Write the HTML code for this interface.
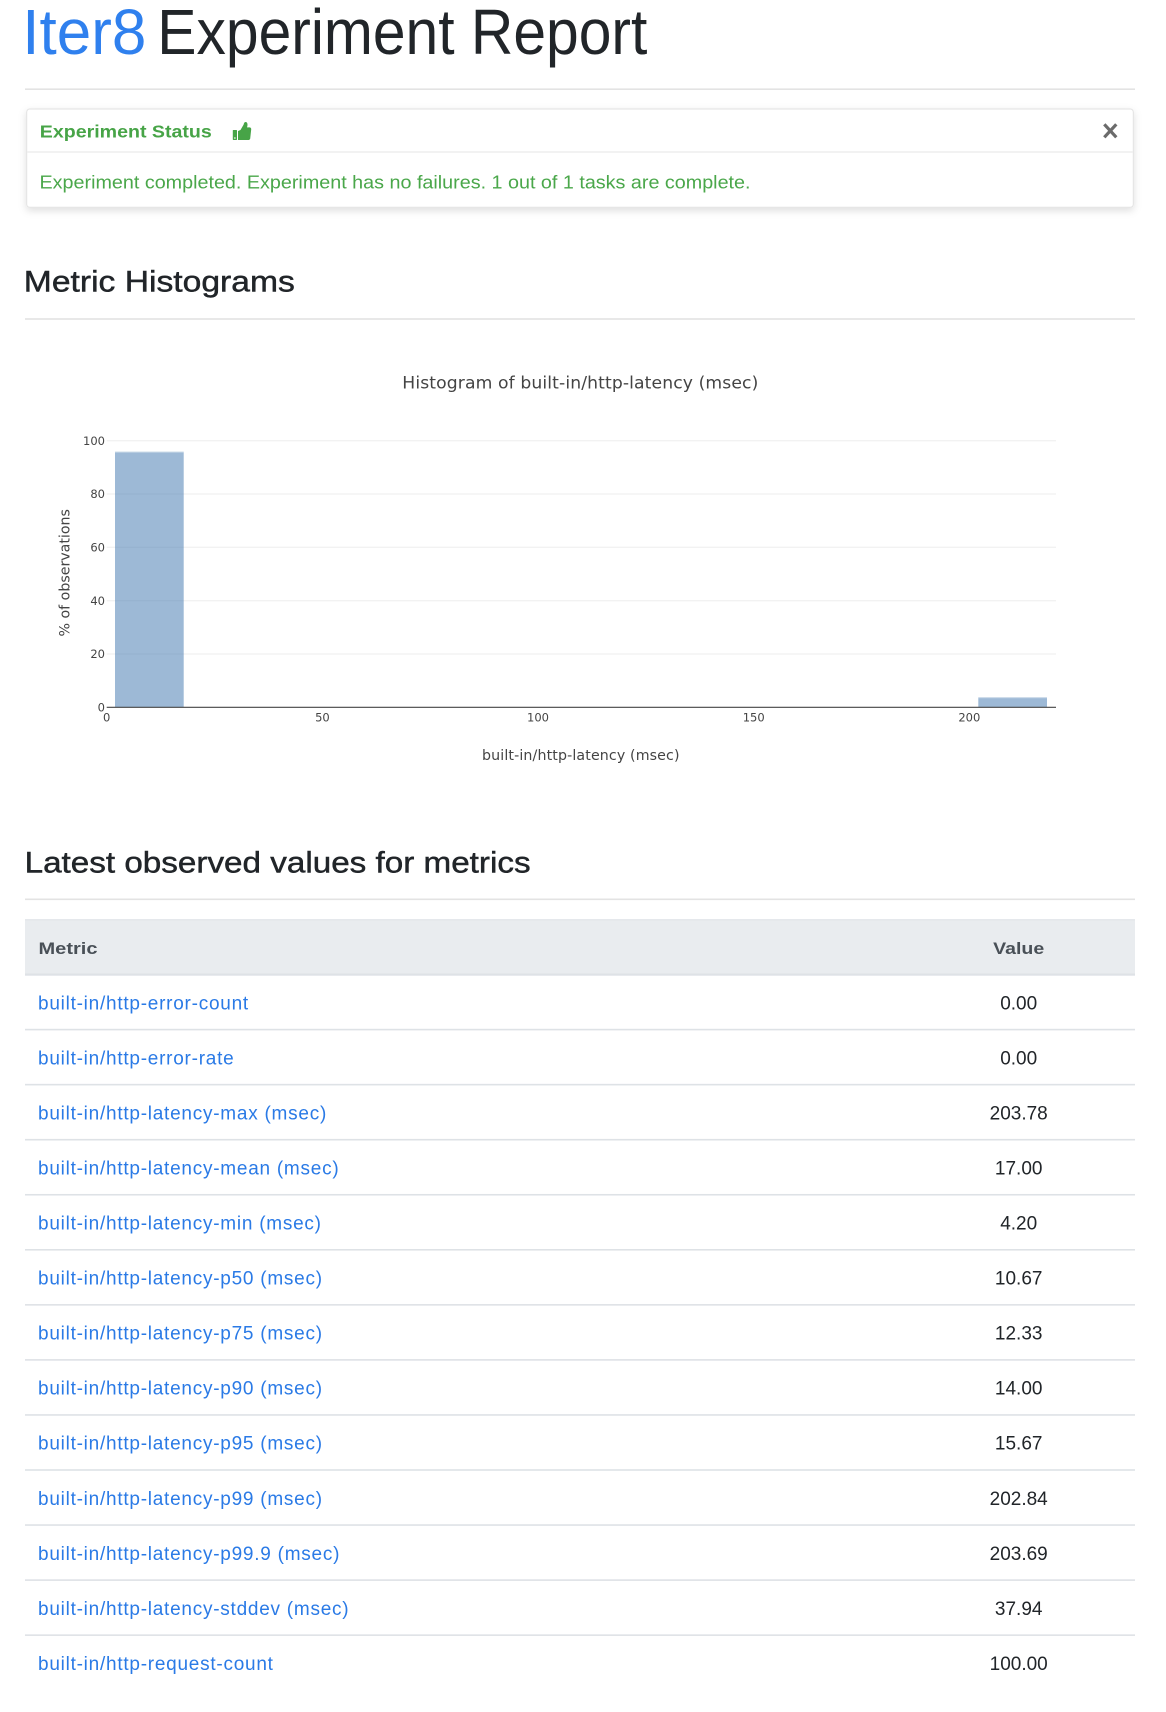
<!DOCTYPE html>
<html>
<head>
<meta charset="utf-8">
<style>
  html, body { margin: 0; padding: 0; background: #ffffff; }
  body { width: 1166px; height: 1712px; overflow: hidden; }
  svg { display: block; }
  .ls { font-family: "Liberation Sans", Arial, sans-serif; }
  .dj { font-family: "DejaVu Sans", Verdana, sans-serif; }
</style>
</head>
<body>
<svg width="1166" height="1712" viewBox="0 0 1166 1712" xmlns="http://www.w3.org/2000/svg">
  <defs>
    <filter id="sh" x="-5%" y="-20%" width="110%" height="150%">
      <feDropShadow dx="0" dy="3" stdDeviation="4" flood-color="#000000" flood-opacity="0.13"/>
    </filter>
  </defs>

  <!-- Title -->
  <text class="ls" x="22.3" y="54" font-size="64" fill="#2f80ee" textLength="124" lengthAdjust="spacingAndGlyphs">Iter8</text>
  <text class="ls" x="157.3" y="54" font-size="64" fill="#212529" textLength="490" lengthAdjust="spacingAndGlyphs">Experiment Report</text>
  <rect x="25" y="88.4" width="1110" height="1.6" fill="#e3e3e3"/>

  <!-- Status card -->
  <rect x="26.7" y="109" width="1106.6" height="98.3" rx="3" ry="3" fill="#ffffff" stroke="#e2e2e2" stroke-width="1" filter="url(#sh)"/>
  <rect x="27.2" y="151.3" width="1105.6" height="1.4" fill="#ececec"/>
  <text class="ls" x="39.8" y="137.3" font-size="17.2" font-weight="bold" fill="#47a447" textLength="172" lengthAdjust="spacingAndGlyphs">Experiment Status</text>
  <!-- thumbs up icon -->
  <g fill="#47a447">
    <rect x="232.8" y="130" width="4.2" height="10" rx="0.6"/>
    <path d="M238 131 L240.5 130 L243.6 124.6 Q244.2 121.4 246.6 122.2 Q248.2 123.6 247 127.4 L249.8 127.4 Q251.6 127.8 251.1 130.2 L250.2 138.6 Q249.8 140 248.2 140 L238 140 Z"/>
  </g>
  <circle cx="234.9" cy="138" r="0.8" fill="#ffffff"/>
  <!-- close x -->
  <g stroke="#6b6b6b" stroke-width="3.2" stroke-linecap="butt">
    <line x1="1104.3" y1="124.3" x2="1116.3" y2="137.3"/>
    <line x1="1116.3" y1="124.3" x2="1104.3" y2="137.3"/>
  </g>
  <text class="ls" x="39.5" y="188.3" font-size="18.6" fill="#4aa74a" textLength="711" lengthAdjust="spacingAndGlyphs">Experiment completed. Experiment has no failures. 1 out of 1 tasks are complete.</text>

  <!-- Metric Histograms heading -->
  <text class="ls" x="23.8" y="291.7" font-size="29.5" fill="#212529" stroke="#212529" stroke-width="0.45" textLength="271" lengthAdjust="spacingAndGlyphs">Metric Histograms</text>
  <rect x="25" y="318.2" width="1110" height="1.6" fill="#e3e3e3"/>

  <!-- Chart -->
  <text class="dj" x="402.3" y="388.3" font-size="17.2" fill="#444444" textLength="356" lengthAdjust="spacing">Histogram of built-in/http-latency (msec)</text>

  <!-- gridlines -->
  <g stroke="#eeeeee" stroke-width="1">
    <line x1="106.7" y1="440.7" x2="1056" y2="440.7"/>
    <line x1="106.7" y1="494.0" x2="1056" y2="494.0"/>
    <line x1="106.7" y1="547.3" x2="1056" y2="547.3"/>
    <line x1="106.7" y1="600.7" x2="1056" y2="600.7"/>
    <line x1="106.7" y1="654.0" x2="1056" y2="654.0"/>
  </g>

  <!-- bars -->
  <rect x="115" y="451.7" width="68.7" height="255.6" fill="rgb(60,116,173)" fill-opacity="0.5"/>
  <rect x="978.3" y="697.3" width="68.7" height="10" fill="rgb(60,116,173)" fill-opacity="0.5"/>
  <line x1="115" y1="452.2" x2="183.7" y2="452.2" stroke="#ffffff" stroke-opacity="0.35" stroke-width="1"/>
  <line x1="978.3" y1="697.8" x2="1047" y2="697.8" stroke="#ffffff" stroke-opacity="0.35" stroke-width="1"/>

  <!-- x axis line -->
  <line x1="106.7" y1="707.3" x2="1056" y2="707.3" stroke="#444444" stroke-width="1.1"/>

  <!-- y tick labels -->
  <g class="dj" font-size="11.5" fill="#444444" text-anchor="end">
    <text x="105" y="444.9">100</text>
    <text x="105" y="498.2">80</text>
    <text x="105" y="551.5">60</text>
    <text x="105" y="604.9">40</text>
    <text x="105" y="658.2">20</text>
    <text x="105" y="711.5">0</text>
  </g>
  <!-- x tick labels -->
  <g class="dj" font-size="11.5" fill="#444444" text-anchor="middle">
    <text x="106.7" y="721.5">0</text>
    <text x="322.4" y="721.5">50</text>
    <text x="538" y="721.5">100</text>
    <text x="753.7" y="721.5">150</text>
    <text x="969.3" y="721.5">200</text>
  </g>

  <!-- axis titles -->
  <text class="dj" x="482" y="760" font-size="14.2" fill="#444444" textLength="197.5" lengthAdjust="spacing">built-in/http-latency (msec)</text>
  <text class="dj" transform="translate(69.3,572.8) rotate(-90)" x="0" y="0" font-size="14.2" fill="#444444" text-anchor="middle">% of observations</text>

  <!-- Latest observed values heading -->
  <text class="ls" x="24.6" y="872.7" font-size="29.5" fill="#212529" stroke="#212529" stroke-width="0.45" textLength="506" lengthAdjust="spacingAndGlyphs">Latest observed values for metrics</text>
  <rect x="25" y="898.5" width="1110" height="1.6" fill="#e3e3e3"/>

  <!-- Table header -->
  <rect x="25" y="919.3" width="1110" height="54" fill="#e9ecef"/>
  <rect x="25" y="919.3" width="1110" height="1" fill="#dee2e6"/>
  <rect x="25" y="973.3" width="1110" height="2.4" fill="#dee2e6"/>
  <text class="ls" x="38.5" y="954" font-size="17" font-weight="bold" fill="#495057" textLength="59" lengthAdjust="spacingAndGlyphs">Metric</text>
  <text class="ls" x="993.2" y="954" font-size="17" font-weight="bold" fill="#495057" textLength="51" lengthAdjust="spacingAndGlyphs">Value</text>

  <!-- Row borders -->
  <g fill="#dee2e6">
    <rect x="25" y="1028.8" width="1110" height="1.6"/>
    <rect x="25" y="1083.85" width="1110" height="1.6"/>
    <rect x="25" y="1138.9" width="1110" height="1.6"/>
    <rect x="25" y="1193.95" width="1110" height="1.6"/>
    <rect x="25" y="1249.0" width="1110" height="1.6"/>
    <rect x="25" y="1304.05" width="1110" height="1.6"/>
    <rect x="25" y="1359.1" width="1110" height="1.6"/>
    <rect x="25" y="1414.15" width="1110" height="1.6"/>
    <rect x="25" y="1469.2" width="1110" height="1.6"/>
    <rect x="25" y="1524.25" width="1110" height="1.6"/>
    <rect x="25" y="1579.3" width="1110" height="1.6"/>
    <rect x="25" y="1634.35" width="1110" height="1.6"/>
  </g>

  <!-- Row texts: metrics -->
  <g class="ls" font-size="19" fill="#2a7ae6" style="letter-spacing:0.75px">
    <text x="38" y="1009.3">built-in/http-error-count</text>
    <text x="38" y="1064.35">built-in/http-error-rate</text>
    <text x="38" y="1119.4">built-in/http-latency-max (msec)</text>
    <text x="38" y="1174.45">built-in/http-latency-mean (msec)</text>
    <text x="38" y="1229.5">built-in/http-latency-min (msec)</text>
    <text x="38" y="1284.55">built-in/http-latency-p50 (msec)</text>
    <text x="38" y="1339.6">built-in/http-latency-p75 (msec)</text>
    <text x="38" y="1394.65">built-in/http-latency-p90 (msec)</text>
    <text x="38" y="1449.7">built-in/http-latency-p95 (msec)</text>
    <text x="38" y="1504.75">built-in/http-latency-p99 (msec)</text>
    <text x="38" y="1559.8">built-in/http-latency-p99.9 (msec)</text>
    <text x="38" y="1614.85">built-in/http-latency-stddev (msec)</text>
    <text x="38" y="1669.9">built-in/http-request-count</text>
  </g>

  <!-- Row texts: values -->
  <g class="ls" font-size="19" fill="#212529" text-anchor="middle">
    <text x="1018.7" y="1009.3">0.00</text>
    <text x="1018.7" y="1064.35">0.00</text>
    <text x="1018.7" y="1119.4">203.78</text>
    <text x="1018.7" y="1174.45">17.00</text>
    <text x="1018.7" y="1229.5">4.20</text>
    <text x="1018.7" y="1284.55">10.67</text>
    <text x="1018.7" y="1339.6">12.33</text>
    <text x="1018.7" y="1394.65">14.00</text>
    <text x="1018.7" y="1449.7">15.67</text>
    <text x="1018.7" y="1504.75">202.84</text>
    <text x="1018.7" y="1559.8">203.69</text>
    <text x="1018.7" y="1614.85">37.94</text>
    <text x="1018.7" y="1669.9">100.00</text>
  </g>
</svg>
</body>
</html>
